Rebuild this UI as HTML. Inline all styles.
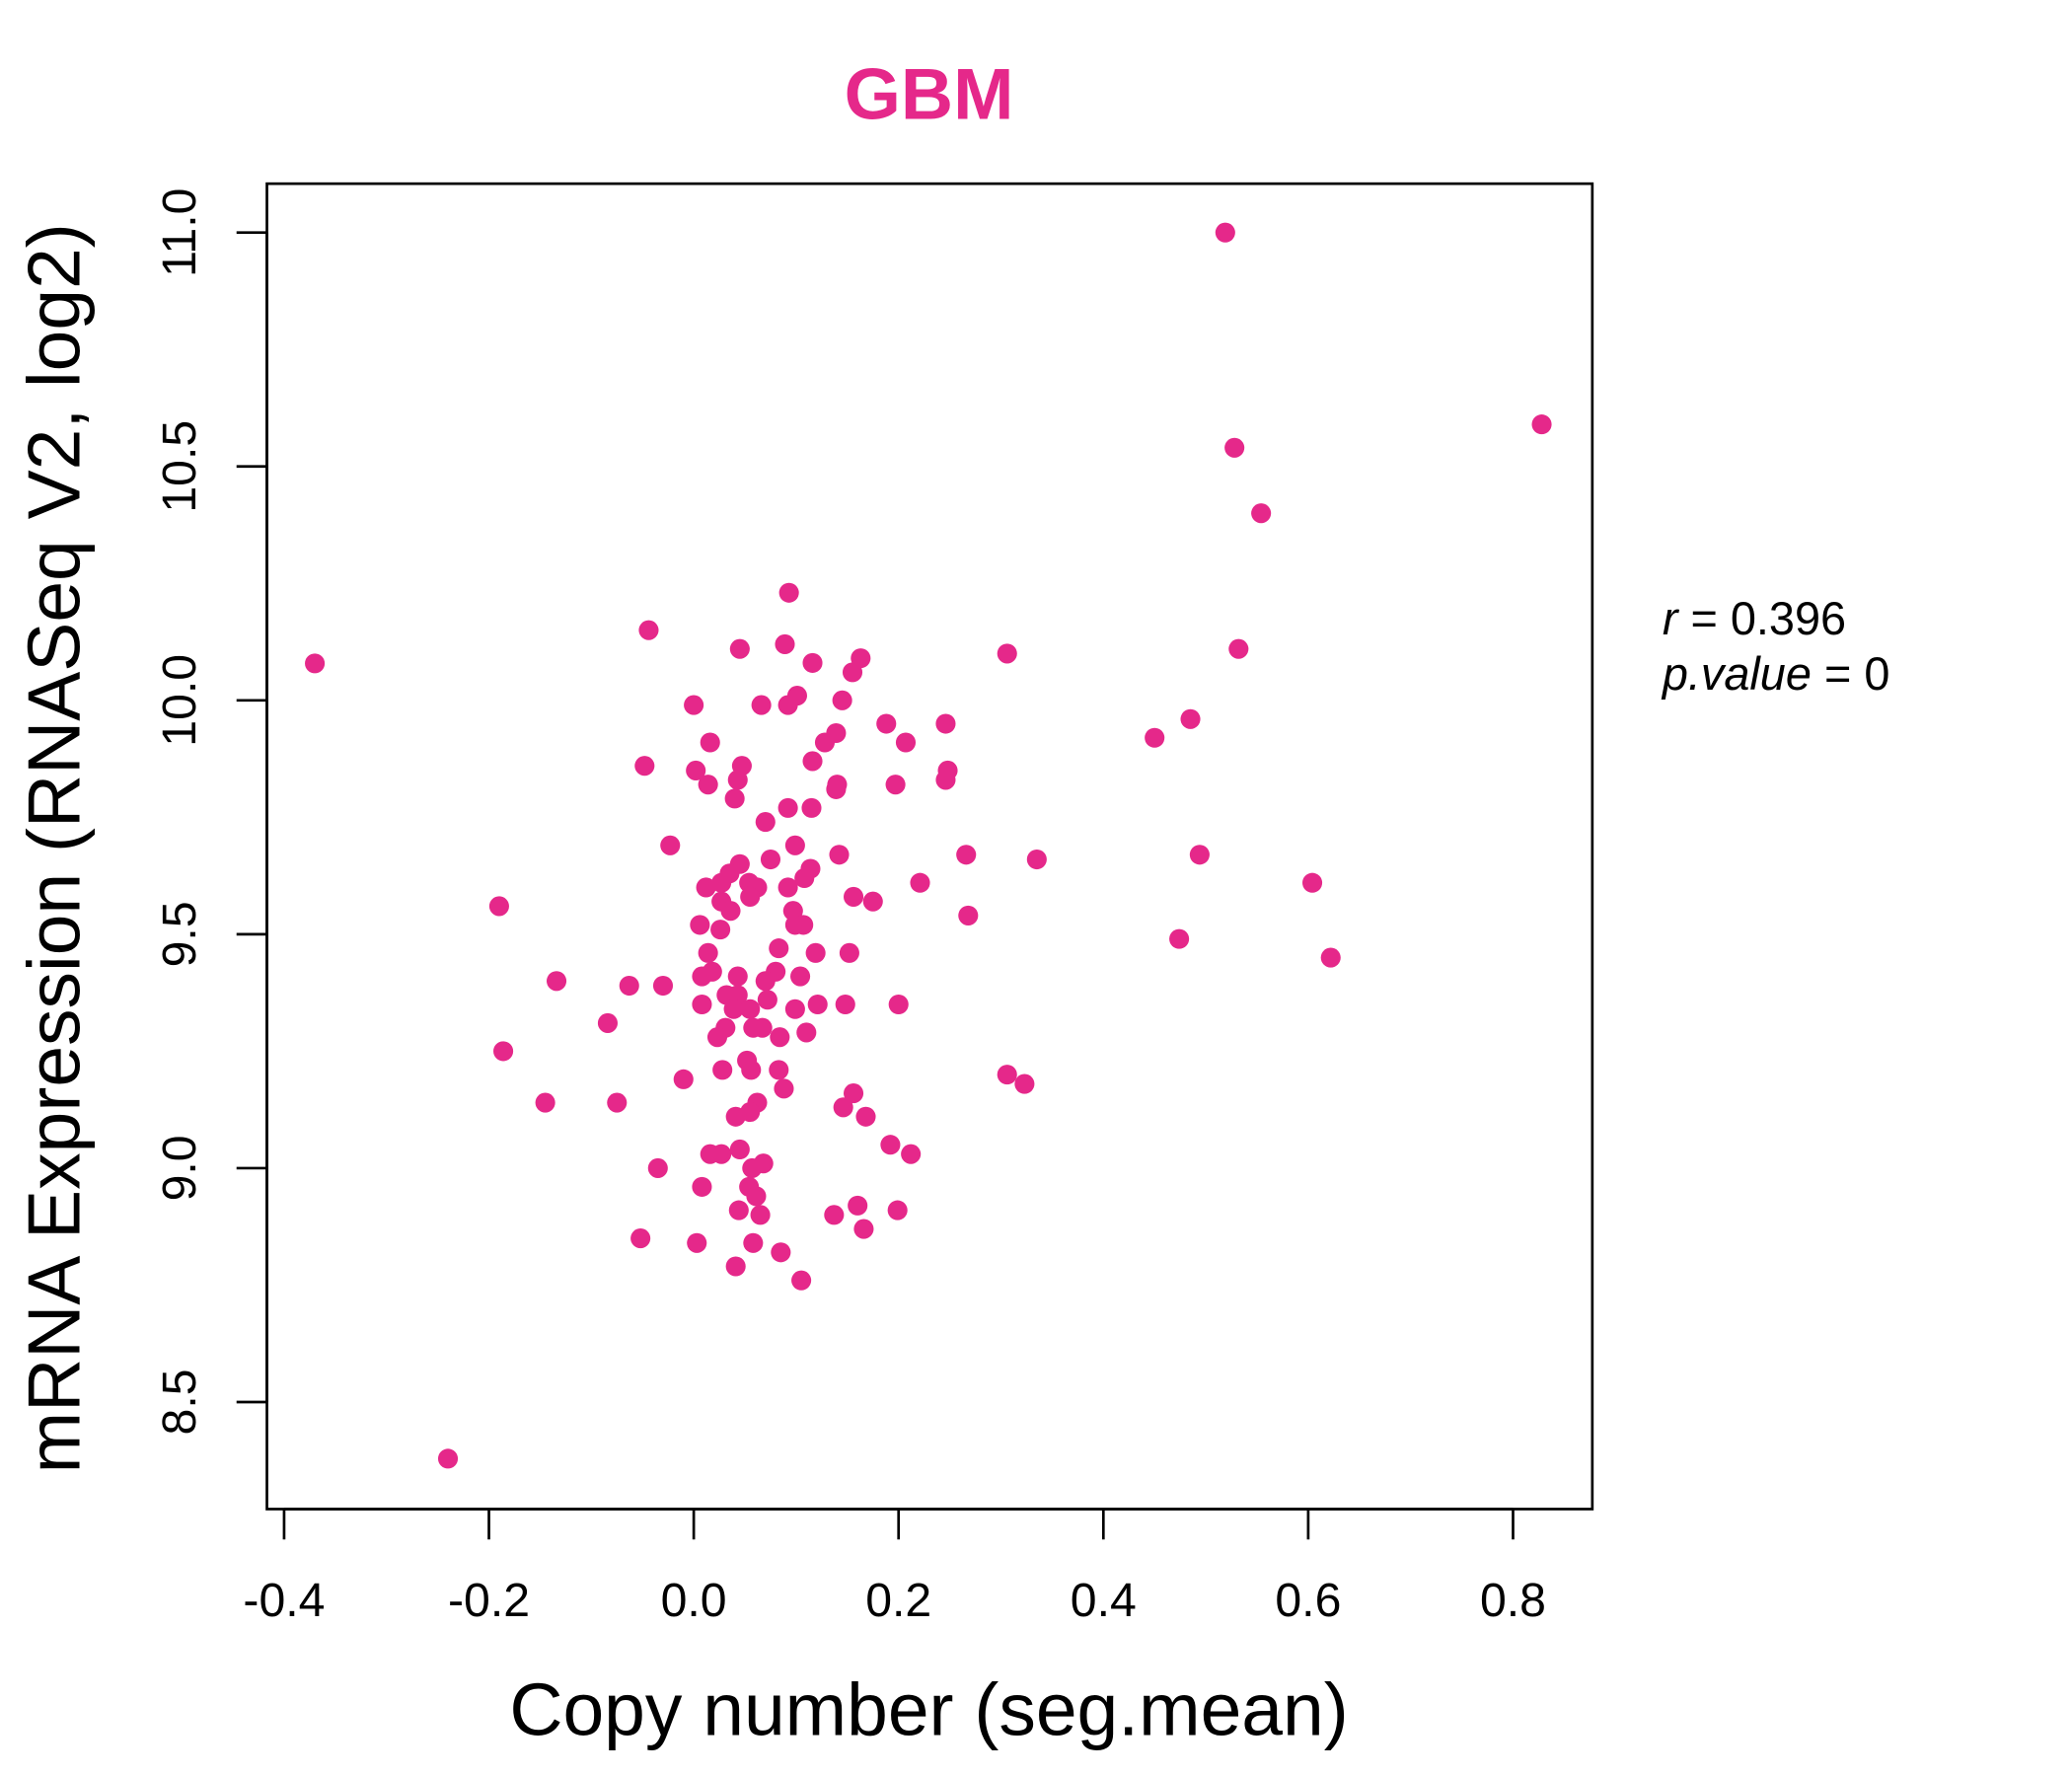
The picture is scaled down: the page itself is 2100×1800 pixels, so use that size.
<!DOCTYPE html>
<html><head><meta charset="utf-8"><style>
html,body{margin:0;padding:0;background:#fff}
svg{display:block}
text{font-family:"Liberation Sans",sans-serif;fill:#000}
</style></head><body>
<svg id="chart" width="2100" height="1800" viewBox="0 0 1568 1344" xmlns="http://www.w3.org/2000/svg">
<rect x="0" y="0" width="1568" height="1344" fill="#fff"/>
<text x="703" y="90" text-anchor="middle" font-size="55" font-weight="bold" style="fill:#e5288a">GBM</text>
<rect x="202" y="139" width="1003" height="1003" fill="none" stroke="#000" stroke-width="2"/>
<g id="xaxis"></g>
<g id="yaxis"></g>
<g id="points"></g>
<text x="703" y="1313" text-anchor="middle" font-size="56">Copy number (seg.mean)</text>
<text transform="translate(60,642) rotate(-90)" text-anchor="middle" font-size="56">mRNA Expression (RNASeq V2, log2)</text>
<text x="1258" y="480" font-size="35"><tspan font-style="italic">r</tspan> = 0.396</text>
<text x="1258" y="522" font-size="35"><tspan font-style="italic">p.value</tspan> = 0</text>
</svg>
<script>
const xTicks=[-0.4,-0.2,0.0,0.2,0.4,0.6,0.8];
const xTickLabels=["-0.4","-0.2","0.0","0.2","0.4","0.6","0.8"];
const yTicks=[8.5,9.0,9.5,10.0,10.5,11.0];
const yTickLabels=["8.5","9.0","9.5","10.0","10.5","11.0"];
const xValues=[-0.370,-0.240,0.519,0.828,0.528,0.554,0.532,0.306,0.485,0.450,0.494,0.604,0.622,0.474,0.335,0.266,0.268,0.306,0.323,0.093,-0.044,0.045,0.089,0.116,0.163,0.155,0.000,0.066,0.101,0.092,0.145,0.246,0.188,0.207,0.139,0.128,0.016,-0.048,0.002,0.047,0.043,0.014,0.116,0.140,0.139,0.248,0.246,0.197,0.040,0.092,0.115,0.070,-0.023,0.099,0.142,0.075,0.114,0.045,0.035,0.108,0.221,0.012,0.027,0.054,0.062,0.092,0.055,0.156,0.175,-0.190,0.027,0.036,0.097,0.099,0.107,0.006,0.026,0.083,0.014,0.119,0.152,0.008,0.018,0.043,0.080,0.070,0.104,-0.030,-0.063,-0.134,0.032,0.043,0.072,0.121,0.148,0.200,0.008,0.039,0.055,0.099,-0.084,0.031,0.058,0.067,0.023,0.110,0.084,-0.186,0.052,0.056,0.028,0.083,-0.010,0.088,0.156,-0.145,-0.075,0.062,0.055,0.041,0.146,0.168,0.192,0.212,0.045,0.016,0.027,0.057,0.068,-0.035,0.008,0.054,0.061,0.044,0.065,0.137,0.160,0.199,0.166,-0.052,0.003,0.058,0.085,0.041,0.105];
const yValues=[10.079,8.379,11.0,10.59,10.54,10.40,10.11,10.10,9.96,9.92,9.67,9.61,9.45,9.49,9.66,9.67,9.54,9.20,9.18,10.23,10.15,10.11,10.12,10.08,10.09,10.06,9.99,9.99,10.01,9.99,10.00,9.95,9.95,9.91,9.93,9.91,9.91,9.86,9.85,9.86,9.83,9.82,9.87,9.82,9.81,9.85,9.83,9.82,9.79,9.77,9.77,9.74,9.69,9.69,9.67,9.66,9.64,9.65,9.63,9.62,9.61,9.60,9.61,9.61,9.60,9.60,9.58,9.58,9.57,9.56,9.57,9.55,9.55,9.52,9.52,9.52,9.51,9.47,9.46,9.46,9.46,9.41,9.42,9.41,9.42,9.40,9.41,9.39,9.39,9.40,9.37,9.37,9.36,9.35,9.35,9.35,9.35,9.34,9.34,9.34,9.31,9.30,9.30,9.30,9.28,9.29,9.28,9.25,9.23,9.21,9.21,9.21,9.19,9.17,9.16,9.14,9.14,9.14,9.12,9.11,9.13,9.11,9.05,9.03,9.04,9.03,9.03,9.00,9.01,9.00,8.96,8.96,8.94,8.91,8.90,8.90,8.92,8.91,8.87,8.85,8.84,8.84,8.82,8.79,8.76];
const NS="http://www.w3.org/2000/svg";
function sx(v){return 215+(v+0.4)*775;}
function sy(v){return 176+(11-v)*354;}
function mk(tag,attrs,parent){const e=document.createElementNS(NS,tag);for(const k in attrs)e.setAttribute(k,attrs[k]);parent.appendChild(e);return e;}
const xa=document.getElementById('xaxis');
mk('line',{x1:sx(xTicks[0]),x2:sx(xTicks[xTicks.length-1]),y1:1142,y2:1142,stroke:'#000','stroke-width':2},xa);
xTicks.forEach((t,i)=>{
  const l=mk('line',{x1:sx(t),x2:sx(t),y1:1142,y2:1165,stroke:'#000','stroke-width':2},xa);
  
  
  const tx=mk('text',{x:sx(t),y:1223,'text-anchor':'middle','font-size':36},xa);
  tx.textContent=xTickLabels[i];
  
  
});
const ya=document.getElementById('yaxis');
mk('line',{x1:202,x2:202,y1:sy(yTicks[0]),y2:sy(yTicks[yTicks.length-1]),stroke:'#000','stroke-width':2},ya);
yTicks.forEach((t,i)=>{
  const l=mk('line',{x1:179,x2:202,y1:sy(t),y2:sy(t),stroke:'#000','stroke-width':2},ya);
  
  
  const tx=mk('text',{transform:`translate(148,${sy(t)}) rotate(-90)`,'text-anchor':'middle','font-size':36},ya);
  tx.textContent=yTickLabels[i];
  
  
});
const pg=document.getElementById('points');
xValues.forEach((x,i)=>{
  const c=mk('circle',{cx:sx(x),cy:sy(yValues[i]),r:7.5,fill:'#e5288a'},pg);
  
  
});
</script>
</body></html>
